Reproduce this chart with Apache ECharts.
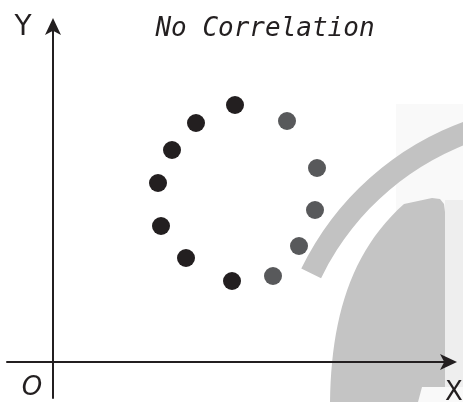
<!DOCTYPE html>
<html>
<head>
<meta charset="utf-8">
<script src="https://cdn.jsdelivr.net/npm/echarts@6/dist/echarts.min.js"></script>
<style>html,body{margin:0;padding:0;background:#fff}#c{width:463px;height:402px}</style>
</head>
<body>
<div id="c"></div>
<script>
// Data (x, y in chart units; origin at the O corner)
const titleText = 'No Correlation';
const axisNames = { x: 'X', y: 'Y', origin: 'O' };
const blackPoints = [
  [18.2, 25.7], [14.3, 23.9], [11.9, 21.2], [10.5, 17.9],
  [10.8, 13.6], [13.3, 10.4], [17.9, 8.1]
];
const grayPoints = [
  [23.4, 24.1], [26.4, 19.4], [26.2, 15.2], [24.6, 11.6], [22.0, 8.6]
];

// Watermark outline (decorative background shape)
function cubic(p0, p1, p2, p3, n) {
  const out = [];
  for (let i = 0; i <= n; i++) {
    const t = i / n, u = 1 - t;
    out.push([
      u*u*u*p0[0] + 3*u*u*t*p1[0] + 3*u*t*t*p2[0] + t*t*t*p3[0],
      u*u*u*p0[1] + 3*u*u*t*p1[1] + 3*u*t*t*p2[1] + t*t*t*p3[1]
    ]);
  }
  return out;
}
const wmPts = cubic([330, 402], [331, 320], [350, 252], [404, 204], 24)
  .concat([[432, 198], [440, 199], [444, 204], [445, 212], [445, 387], [422, 387], [418, 402]]);

const chart = echarts.init(document.getElementById('c'), null, { renderer: 'canvas' });
const ink = '#231f20';
chart.setOption({
  animation: false,
  backgroundColor: '#ffffff',
  grid: { left: 7, right: 14, top: 26, bottom: 4 },
  xAxis: {
    type: 'value', min: -4.6, max: 39.6,
    axisLine: { onZero: true, symbol: ['none', 'arrow'], symbolSize: [12, 17], symbolOffset: [0, 8],
      lineStyle: { color: ink, width: 2 } },
    axisTick: { show: false }, axisLabel: { show: false }, splitLine: { show: false }
  },
  yAxis: {
    type: 'value', min: -3.6, max: 33.6,
    axisLine: { onZero: true, symbol: ['none', 'arrow'], symbolSize: [12, 17], symbolOffset: [0, 8],
      lineStyle: { color: ink, width: 2 } },
    axisTick: { show: false }, axisLabel: { show: false }, splitLine: { show: false }
  },
  series: [
    { type: 'scatter', data: blackPoints, symbolSize: 18, itemStyle: { color: ink, opacity: 1 }, z: 5 },
    { type: 'scatter', data: grayPoints, symbolSize: 18, itemStyle: { color: '#58595b', opacity: 1 }, z: 5 }
  ],
  graphic: [
    { type: 'rect', z: -20, silent: true, shape: { x: 396, y: 104, width: 70, height: 300 }, style: { fill: '#f9f9f9' } },
    { type: 'rect', z: -19, silent: true, shape: { x: 445, y: 200, width: 20, height: 187 }, style: { fill: '#eeeeee' } },
    { type: 'sector', z: -15, silent: true,
      shape: { cx: 564, cy: 396, r: 292, r0: 270, startAngle: -2.69, endAngle: -1.0, clockwise: true },
      style: { fill: '#c2c2c2' } },
    { type: 'polygon', z: -15, silent: true, shape: { points: wmPts }, style: { fill: '#c4c4c4' } },
    { type: 'text', z: 100, style: { text: titleText, x: 265, y: 29, textAlign: 'center', textVerticalAlign: 'middle',
      font: 'italic 26px "DejaVu Sans Mono"', fill: ink } },
    { type: 'text', z: 100, style: { text: axisNames.y, x: 23, y: 28, textAlign: 'center', textVerticalAlign: 'middle',
      font: '28px "DejaVu Sans"', fill: ink } },
    { type: 'text', z: 100, style: { text: axisNames.origin, x: 32, y: 388, textAlign: 'center', textVerticalAlign: 'middle',
      font: 'italic 26px "DejaVu Sans"', fill: ink } },
    { type: 'text', z: 100, style: { text: axisNames.x, x: 445, y: 393, textAlign: 'left', textVerticalAlign: 'middle',
      font: '26px "DejaVu Sans"', fill: ink } }
  ]
});
</script>
</body>
</html>
